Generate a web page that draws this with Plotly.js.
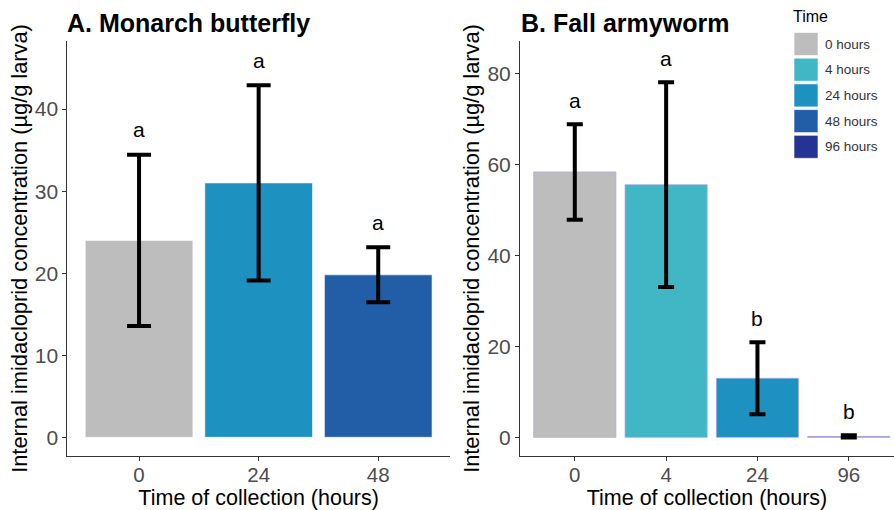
<!DOCTYPE html>
<html>
<head>
<meta charset="utf-8">
<script src="https://cdn.plot.ly/plotly-3.0.1.min.js"></script>
<style>html,body{margin:0;padding:0;background:#fff;}#chart{width:894px;height:510px;}</style>
</head>
<body>
<div id="chart"></div>
<script>
// ---- Data ----
const monarchTimes = ['0', '24', '48'];
const monarchMeans = [24.0, 31.0, 19.8];
const monarchErr = [10.45, 11.9, 3.35];
const monarchLetters = ['a', 'a', 'a'];

const armywormTimes = ['0', '4', '24', '96'];
const armywormMeans = [58.4, 55.6, 13.0, 0.2];
const armywormErr = [10.5, 22.5, 7.9, 0.25];
const armywormLetters = ['a', 'a', 'b', 'b'];

const legendLabels = ['0 hours', '4 hours', '24 hours', '48 hours', '96 hours'];
const legendTimes = ['0', '4', '24', '48', '96'];
const legendColors = ['#BDBDBD', '#41B6C4', '#1D91C0', '#225EA8', '#253494'];

// ---- Layout helpers ----
const W = 894, H = 510, T = 41, B = 54;
const PH = H - T - B;
const px = x => x / W;
const py = y => (H - B - y) / PH;
const colorOf = t => legendColors[legendTimes.indexOf(t)];
const FONT = 'Liberation Sans, Arial, sans-serif';

const traces = [
  {
    type: 'bar', x: monarchTimes, y: monarchMeans, xaxis: 'x', yaxis: 'y',
    width: 0.9,
    marker: {color: monarchTimes.map(colorOf), line: {color: 'rgba(255,255,255,0.6)', width: 1}},
    error_y: {type: 'data', array: monarchErr, visible: true, color: '#000', thickness: 4, width: 12},
    showlegend: false, hoverinfo: 'skip'
  },
  {
    type: 'bar', x: armywormTimes, y: armywormMeans, xaxis: 'x2', yaxis: 'y2',
    width: 0.9,
    marker: {color: armywormTimes.map(colorOf), line: {color: 'rgba(170,170,230,0.7)', width: 1}},
    error_y: {type: 'data', array: armywormErr, visible: true, color: '#000', thickness: 4, width: 8},
    showlegend: false, hoverinfo: 'skip'
  }
];

const annotations = [];
// category axes: annotations are placed by category index
monarchTimes.forEach((t, i) => annotations.push({
  x: i, y: monarchMeans[i] + monarchErr[i], xref: 'x', yref: 'y',
  text: monarchLetters[i], showarrow: false, yanchor: 'middle', yshift: 25,
  font: {family: FONT, size: 21, color: '#000'}
}));
armywormTimes.forEach((t, i) => annotations.push({
  x: i, y: armywormMeans[i] + armywormErr[i], xref: 'x2', yref: 'y2',
  text: armywormLetters[i], showarrow: false, yanchor: 'middle', yshift: 24,
  font: {family: FONT, size: 21, color: '#000'}
}));
// panel titles
annotations.push({x: px(65), y: py(23), xref: 'paper', yref: 'paper', xanchor: 'left', yanchor: 'middle',
  text: '<b>A. Monarch butterfly</b>', showarrow: false, font: {family: FONT, size: 25, color: '#000'}});
annotations.push({x: px(519), y: py(23), xref: 'paper', yref: 'paper', xanchor: 'left', yanchor: 'middle',
  text: '<b>B. Fall armyworm</b>', showarrow: false, font: {family: FONT, size: 25, color: '#000'}});
// legend
annotations.push({x: px(791), y: py(17), xref: 'paper', yref: 'paper', xanchor: 'left', yanchor: 'middle',
  text: 'Time', showarrow: false, font: {family: FONT, size: 16, color: '#000'}});
const shapes = [];
legendLabels.forEach((lab, i) => {
  const top = 32.5 + i * 25.7, bot = top + 23;
  shapes.push({type: 'rect', xref: 'paper', yref: 'paper', x0: px(794), x1: px(818), y0: py(bot), y1: py(top),
    fillcolor: legendColors[i], line: {color: 'rgba(255,255,255,0.6)', width: 1}});
  annotations.push({x: px(823), y: py((top + bot) / 2), xref: 'paper', yref: 'paper', xanchor: 'left', yanchor: 'middle',
    text: lab, showarrow: false, font: {family: FONT, size: 13.5, color: '#333'}});
});

const axisCommon = {
  showline: true, linecolor: '#333', linewidth: 1, ticks: 'outside', ticklen: 4, tickcolor: '#333',
  showgrid: false, zeroline: false, tickfont: {family: FONT, size: 21, color: '#4D4D4D'}, automargin: false
};
const ytitle = 'Internal imidacloprid concentration (µg/g larva)';
const xtitle = 'Time of collection (hours)';
const xTick = {family: FONT, size: 20.5, color: '#4D4D4D'};

const layout = {
  width: W, height: H,
  margin: {l: 0, r: 0, t: T, b: B},
  paper_bgcolor: '#fff', plot_bgcolor: '#fff',
  font: {family: FONT},
  xaxis: Object.assign({}, axisCommon, {domain: [px(67.3), px(450)], range: [-0.6, 2.6], type: 'category',
    tickfont: xTick, ticklabelstandoff: -4,
    anchor: 'y', title: {text: xtitle, font: {family: FONT, size: 21.5, color: '#000'}, standoff: 6}}),
  yaxis: Object.assign({}, axisCommon, {domain: [0, 1], range: [-2.28, 48.3], tickvals: [0, 10, 20, 30, 40],
    anchor: 'x', title: {text: ytitle, font: {family: FONT, size: 21.8, color: '#000'}, standoff: 1}}),
  xaxis2: Object.assign({}, axisCommon, {domain: [px(520), 1], range: [-0.6, 3.495], type: 'category',
    tickfont: xTick, ticklabelstandoff: -4,
    anchor: 'y2', title: {text: xtitle, font: {family: FONT, size: 21.5, color: '#000'}, standoff: 6}}),
  yaxis2: Object.assign({}, axisCommon, {domain: [0, 1], range: [-4.1, 87.2], tickvals: [0, 20, 40, 60, 80],
    anchor: 'x2', title: {text: ytitle, font: {family: FONT, size: 21.8, color: '#000'}, standoff: 1}}),
  annotations: annotations,
  shapes: shapes,
  showlegend: false
};

Plotly.newPlot('chart', traces, layout, {displayModeBar: false, staticPlot: true});
</script>
</body>
</html>
